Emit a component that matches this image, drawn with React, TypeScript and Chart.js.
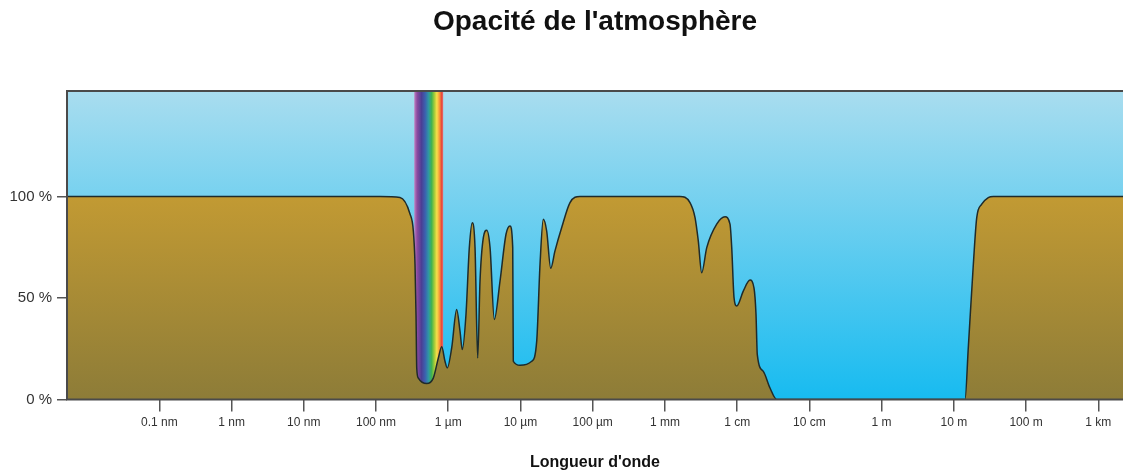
import React, { useEffect, useRef } from "react";
import { Chart, registerables } from "chart.js";

Chart.register(...registerables);

// ---- Text ----
const TITLE = "Opacité de l'atmosphère";
const X_TITLE = "Longueur d'onde";

// ---- X axis: log10 of wavelength (metres) ----
const X_TICKS_LOG10 = [-10, -9, -8, -7, -6, -5, -4, -3, -2, -1, 0, 1, 2, 3];
const X_TICK_LABELS = ["0.1 nm", "1 nm", "10 nm", "100 nm", "1 µm", "10 µm", "100 µm", "1 mm", "1 cm", "10 cm", "1 m", "10 m", "100 m", "1 km"];
const X_MIN = -11.278;
const X_MAX = 3.342;

// ---- Y axis: opacity in % ----
const Y_TICKS = [0, 50, 100];
const Y_MAX = 152;

// ---- Series: atmospheric opacity vs log10(wavelength in m) ----
const wavelengthLog10 = [
  -11.4, -6.944, -6.668, -6.529, -6.483, -6.46, -6.446, -6.436, -6.414, -6.298,
  -6.207, -6.137, -6.09, -6.045, -6.013, -5.952, -5.883, -5.837, -5.805, -5.754,
  -5.708, -5.667, -5.629, -5.592, -5.56, -5.514, -5.467, -5.421, -5.362, -5.283,
  -5.2, -5.145, -5.107, -5.099, -5.006, -4.844, -4.775, -4.729, -4.684, -4.637,
  -4.581, -4.522, -4.429, -4.314, -4.176, -2.792, -2.653, -2.583, -2.538, -2.491,
  -2.421, -2.283, -2.168, -2.099, -2.075, -2.043, -2.006, -1.915, -1.822, -1.767,
  -1.739, -1.721, -1.638, -1.545, -1.452, 1.155, 1.2, 1.27, 1.317, 1.386,
  1.477, 1.547, 3.6,
];
const opacityPct = [
  100, 100, 99.5, 91.4, 83, 66.7, 42, 15.5, 10.5, 7.8,
  10.5, 20.4, 25.9, 18.8, 15.5, 25.4, 44.3, 33.6, 24.6, 42,
  74.8, 87.1, 74.8, 20.4, 58.3, 79.7, 83.4, 74.8, 39.4, 58.3,
  81.4, 85.5, 74.8, 18.8, 16.8, 18.8, 28.7, 66.7, 88.8, 83,
  64.6, 73.2, 84.7, 97, 100, 100, 97, 89.6, 78.1, 62.4,
  74.8, 86.4, 90, 86.4, 74.8, 50.1, 46, 53.4, 58.8, 55,
  42, 22.1, 13.8, 5.6, 0, 0, 25.4, 66.6, 89.6, 96.2,
  99.5, 100, 100,
];

// ---- Visible light band (log10 m) and its colours ----
const VISIBLE_BAND = [-6.47, -6.07];
const RAINBOW_COLORS = ["#c07ec0", "#8a4aa0", "#4b3f95", "#3b62b0", "#2f9aa2", "#40b350", "#a8cc3a", "#f6e04a", "#f59a3a", "#e8423a", "#e07878"];
const RAINBOW_STOPS = [0, 0.1, 0.25, 0.38, 0.5, 0.6, 0.7, 0.78, 0.87, 0.95, 1];

// ---- Colours ----
const SKY_TOP = "#a9ddef";
const SKY_BOTTOM = "#17bbf0";
const GROUND_TOP = "#c29a33";
const GROUND_BOTTOM = "#8d7c38";
const CURVE_COLOR = "#1f2b2b";
const FRAME_COLOR = "#4a4a4a";

export default function App() {
  const ref = useRef<HTMLCanvasElement>(null);

  useEffect(() => {
    const canvas = ref.current;
    if (!canvas) return;
    Chart.defaults.font.family = "'Liberation Sans', Arial, sans-serif";

    const points = wavelengthLog10.map((x, i) => ({ x, y: opacityPct[i] }));

    const background = {
      id: "skyAndRainbow",
      beforeDatasetsDraw(chart: any) {
        const { ctx, chartArea: a, scales } = chart;
        ctx.save();
        const sky = ctx.createLinearGradient(0, a.top, 0, a.bottom);
        sky.addColorStop(0, SKY_TOP);
        sky.addColorStop(1, SKY_BOTTOM);
        ctx.fillStyle = sky;
        ctx.fillRect(a.left, a.top, a.right - a.left, a.bottom - a.top);
        const x0 = scales.x.getPixelForValue(VISIBLE_BAND[0]);
        const x1 = scales.x.getPixelForValue(VISIBLE_BAND[1]);
        const rb = ctx.createLinearGradient(x0, 0, x1, 0);
        RAINBOW_COLORS.forEach((c, i) => rb.addColorStop(RAINBOW_STOPS[i], c));
        ctx.fillStyle = rb;
        ctx.fillRect(x0, a.top, x1 - x0, a.bottom - a.top);
        ctx.restore();
      },
    };

    const frame = {
      id: "frame",
      afterDatasetsDraw(chart: any) {
        const { ctx, chartArea: a } = chart;
        ctx.save();
        ctx.strokeStyle = FRAME_COLOR;
        ctx.lineWidth = 2;
        ctx.beginPath();
        ctx.moveTo(a.right + 2, a.top);
        ctx.lineTo(a.left, a.top);
        ctx.lineTo(a.left, a.bottom);
        ctx.lineTo(a.right + 2, a.bottom);
        ctx.stroke();
        ctx.restore();
      },
    };

    const chart = new Chart(canvas, {
      type: "line",
      data: {
        datasets: [
          {
            data: points,
            borderColor: CURVE_COLOR,
            borderWidth: 1.5,
            pointRadius: 0,
            cubicInterpolationMode: "monotone",
            fill: "origin",
            backgroundColor: (c: any) => {
              const { chart: ch } = c;
              const a = ch.chartArea;
              if (!a) return GROUND_TOP;
              const yTop = ch.scales.y.getPixelForValue(100);
              const g = ch.ctx.createLinearGradient(0, yTop, 0, a.bottom);
              g.addColorStop(0, GROUND_TOP);
              g.addColorStop(1, GROUND_BOTTOM);
              return g;
            },
          },
        ],
      },
      options: {
        responsive: false,
        animation: false,
        devicePixelRatio: 1,
        layout: { padding: { left: 0, right: 0, top: 0, bottom: 0 } },
        plugins: {
          legend: { display: false },
          tooltip: { enabled: false },
          title: {
            display: true,
            text: TITLE,
            fullSize: false,
            color: "#111",
            font: { size: 28, weight: "bold" },
            padding: { top: 5, bottom: 52.4 },
          },
        },
        scales: {
          x: {
            type: "linear",
            min: X_MIN,
            max: X_MAX,
            afterBuildTicks: (scale: any) => {
              scale.ticks = X_TICKS_LOG10.map((v) => ({ value: v }));
            },
            ticks: {
              autoSkip: false,
              maxRotation: 0,
              color: "#333",
              font: { size: 12 },
              padding: 4,
              callback: (_v: any, i: number) => X_TICK_LABELS[i],
            },
            grid: {
              drawOnChartArea: false,
              drawTicks: true,
              tickLength: 12,
              color: "#555",
              lineWidth: 1.5,
            },
            border: { display: false },
            title: {
              display: true,
              text: X_TITLE,
              color: "#111",
              font: { size: 16, weight: "bold" },
              padding: { top: 19, bottom: 0 },
            },
          },
          y: {
            type: "linear",
            min: 0,
            max: Y_MAX,
            afterBuildTicks: (scale: any) => {
              scale.ticks = Y_TICKS.map((v) => ({ value: v }));
            },
            afterFit: (scale: any) => {
              scale.width = 67;
            },
            ticks: {
              color: "#333",
              font: { size: 15 },
              padding: 5,
              callback: (v: any) => `${v} %`,
            },
            grid: {
              drawOnChartArea: false,
              drawTicks: true,
              tickLength: 10,
              color: "#555",
              lineWidth: 1.5,
            },
            border: { display: false },
          },
        },
      },
      plugins: [background, frame],
    } as any);

    return () => chart.destroy();
  }, []);

  return (
    <div style={{ position: "fixed", left: 0, top: 0, width: 1123, height: 472, overflow: "hidden", background: "#fff" }}>
      <canvas ref={ref} width={1123} height={472} style={{ display: "block", width: 1123, height: 472 }} />
    </div>
  );
}
